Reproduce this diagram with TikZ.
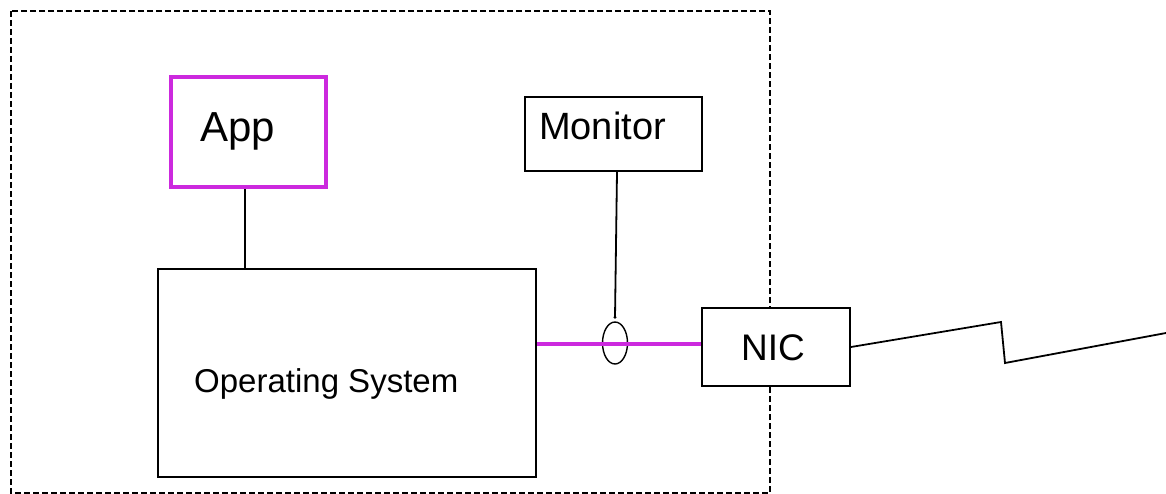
\documentclass[tikz,border=0pt]{standalone}
\usepackage{fontspec}
\setmainfont{Liberation Sans}
\usetikzlibrary{shapes.geometric}
\definecolor{magline}{RGB}{204,41,222}
\tikzset{
  box/.style={draw=black, fill=white, line width=2pt, rectangle, inner sep=0pt},
  appbox/.style={draw=magline, fill=white, line width=4pt, rectangle, inner sep=0pt},
  txt/.style={inner sep=0pt, anchor=base west},
  wire/.style={draw=black, line width=1.8pt},
  busline/.style={draw=magline, line width=4pt},
  hostline/.style={draw=black, line width=1.6pt, dash pattern=on 6pt off 3pt},
}
\begin{document}
\begin{tikzpicture}[x=1pt, y=-1pt]
  \useasboundingbox (0,0) rectangle (1166,494);
  % host boundary
  \draw[hostline] (11,11) rectangle (770,493);

  % boxes
  \node[appbox, minimum width=155pt, minimum height=110pt] (app) at (248.5,132) {};
  \node[box, minimum width=177pt, minimum height=74pt] (mon) at (613.5,134) {};
  \node[box, minimum width=378pt, minimum height=208pt] (os) at (347,373) {};
  \node[box, minimum width=148pt, minimum height=78pt] (nic) at (776,347) {};
  \node[draw=black, line width=1.4pt, ellipse, inner sep=0pt,
        minimum width=25pt, minimum height=42pt] (tap) at (615,343) {};

  % labels
  \node[txt, font=\fontsize{42}{48}\selectfont] (applbl) at (200,142) {App};
  \node[txt, font=\fontsize{38}{44}\selectfont] (monlbl) at (539,140) {Monitor};
  \node[txt, font=\fontsize{37}{42}\selectfont] (niclbl) at (741,360) {NIC};
  \node[txt, font=\fontsize{33}{38}\selectfont] (oslbl) at (194,392) {Operating System};

  % connectors
  \draw[wire] ([xshift=-3.5pt]app.south) -- ([xshift=-3.5pt]app.south |- os.north);
  \draw[busline] ([yshift=29pt]os.east) -- ([yshift=29pt]os.east -| nic.west);
  \draw[wire] ([xshift=3.5pt]mon.south) -- ([yshift=4pt]tap.north);
  \fill ([yshift=4pt]tap.north) circle (1.6pt);

  % outgoing link
  \coordinate (linkend) at (1166,333);
  \draw[wire, line join=miter] (nic.east) -- (1001,322) -- (1005,363) -- (linkend);
\end{tikzpicture}
\end{document}
